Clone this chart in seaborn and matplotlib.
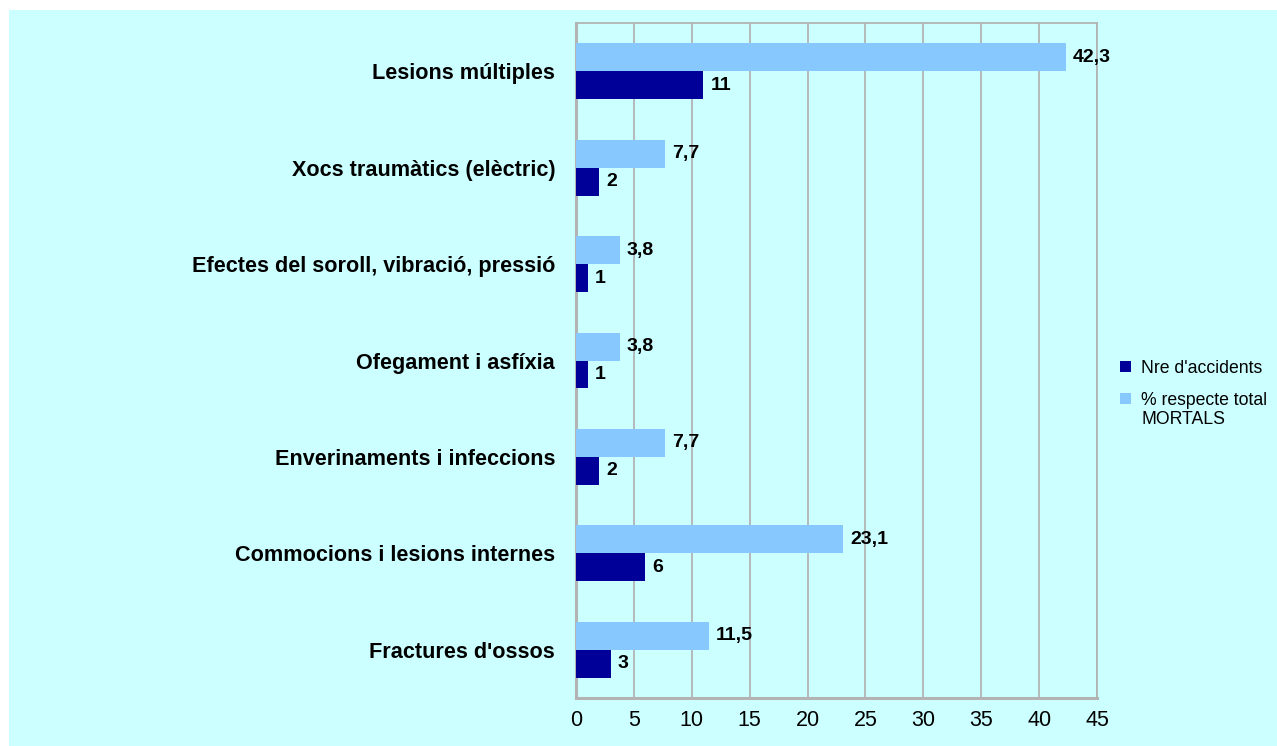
import numpy as np
import pandas as pd
import matplotlib.pyplot as plt
from matplotlib.patches import Rectangle
import seaborn as sns

# ── Data ───────────────────────────────────────────────────────────────────────
CATEGORIES = [
    "Lesions múltiples",
    "Xocs traumàtics (elèctric)",
    "Efectes del soroll, vibració, pressió",
    "Ofegament i asfíxia",
    "Enverinaments i infeccions",
    "Commocions i lesions internes",
    "Fractures d'ossos",
]
NRE_ACCIDENTS = [11, 2, 1, 1, 2, 6, 3]
PCT_MORTALS   = [42.3, 7.7, 3.8, 3.8, 7.7, 23.1, 11.5]

SERIES_NRE = "Nre d'accidents"
SERIES_PCT = "% respecte total"
SERIES_PCT_2ND_LINE = "MORTALS"
X_TICKS = [0, 5, 10, 15, 20, 25, 30, 35, 40, 45]

BG    = "#CCFFFF"
DARK  = "#000099"
LIGHT = "#87C9FF"
GRID  = "#B3B3B3"

df = pd.DataFrame({
    "cat":   CATEGORIES * 2,
    "value": PCT_MORTALS + NRE_ACCIDENTS,
    "serie": [SERIES_PCT] * len(CATEGORIES) + [SERIES_NRE] * len(CATEGORIES),
})

sns.set_style("white")
plt.rcParams["font.family"] = ["Liberation Sans", "DejaVu Sans"]
plt.rcParams["text.color"] = "black"
plt.rcParams["xtick.color"] = "black"
plt.rcParams["ytick.color"] = "black"

fig = plt.figure(figsize=(12.77, 7.46), dpi=100)
fig.patch.set_facecolor("white")
fig.patches.append(Rectangle((9 / 1277, 0), 1, 1 - 10 / 746, transform=fig.transFigure,
                             facecolor=BG, edgecolor="none", zorder=-10))

ax = fig.add_axes([576 / 1277, 1 - 698 / 746, (1097 - 576) / 1277, (698 - 23) / 746])
ax.set_facecolor(BG)

sns.barplot(data=df, y="cat", x="value", hue="serie", orient="h",
            hue_order=[SERIES_PCT, SERIES_NRE],
            palette={SERIES_PCT: LIGHT, SERIES_NRE: DARK},
            width=0.58, saturation=1, linewidth=0, ax=ax, zorder=3)

def fmt_val(v):
    return f"{v:g}".replace(".", ",")

for cont in ax.containers:
    ax.bar_label(cont, fmt=fmt_val, padding=5, fontsize=14, fontweight="bold",
                 color="black")

ax.set_xlim(0, 45)
ax.set_ylim(len(CATEGORIES) - 0.5, -0.5)
ax.set_xticks(X_TICKS)
ax.set_xticklabels([str(t) for t in X_TICKS], fontsize=15.5)
ax.tick_params(axis="x", length=0, pad=9)
ax.tick_params(axis="y", length=0, pad=15)
for lbl in ax.get_yticklabels():
    lbl.set_fontweight("bold")
    lbl.set_fontsize(15.6)
ax.set_xlabel("")
ax.set_ylabel("")

ax.grid(axis="x", color=GRID, linewidth=1.3, zorder=0)
ax.set_axisbelow(True)
for side, sp in ax.spines.items():
    sp.set_visible(True)
    sp.set_color(GRID)
    sp.set_linewidth(1.3)
ax.spines["bottom"].set_linewidth(2.2)
ax.spines["left"].set_linewidth(2.2)

# legend: Nre first; second label wraps onto a line under the text
handles, labels = ax.get_legend_handles_labels()
leg = ax.legend(handles[::-1], labels[::-1], loc="upper left",
                bbox_to_anchor=(1113 / 1277, 1 - 353 / 746), bbox_transform=fig.transFigure,
                frameon=False, fontsize=12.7, handlelength=0.6, handleheight=0.6,
                handletextpad=0.6, labelspacing=0.85, borderaxespad=0)

fig.canvas.draw()
bb = leg.get_texts()[1].get_window_extent().transformed(fig.transFigure.inverted())
fig.text(bb.x0, bb.y0 - 0.003, SERIES_PCT_2ND_LINE, fontsize=12.7, ha="left", va="top")

plt.savefig("out.png", dpi=100, facecolor=fig.get_facecolor())
